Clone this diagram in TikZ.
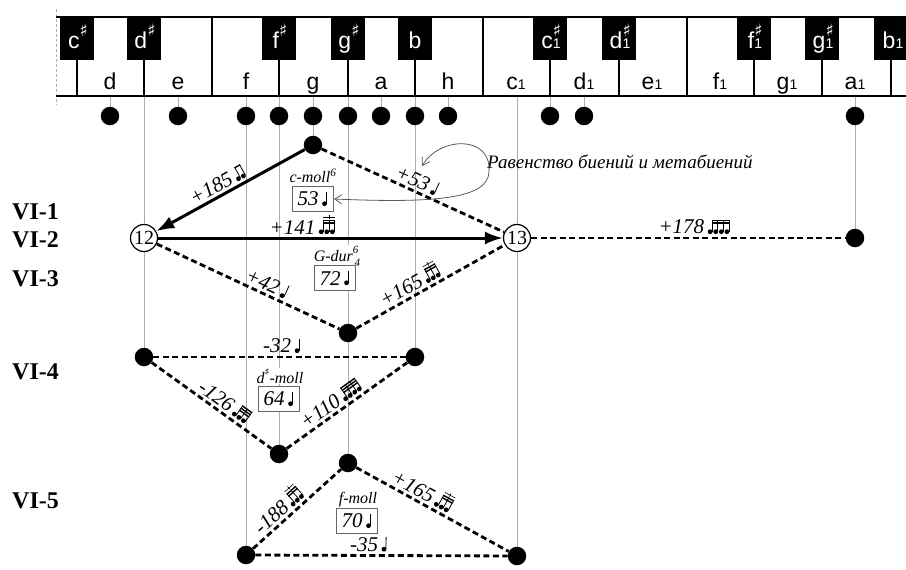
\documentclass[tikz,border=0pt]{standalone}
\usepackage{fontspec}
\usepackage{pict2e}
\setmainfont{Liberation Serif}
\setsansfont{Liberation Sans}
\newfontfamily\symfont{DejaVu Sans}
\usetikzlibrary{arrows.meta}
\pgfdeclarelayer{background}
\pgfsetlayers{background,main}

% beamed note group: #1 notes, #2 beams, #3 = 1 for a tuplet bracket
\newcommand\nbeam[3]{%
  \begingroup\setlength{\unitlength}{1pt}%
  \begin{picture}(0,0)%
    \multiput(2.4,2.2)(5.6,0){#1}{\circle*{4.8}}%
    \multiput(4.1,2.2)(5.6,0){#1}{\rule{0.8pt}{12pt}}%
    \multiput(4.1,12.9)(0,-2.6){#2}{\rule{\dimexpr5.6pt*(#1-1)+0.8pt\relax}{1.4pt}}%
    \ifnum#3=1
      \put(4.1,16.6){\rule{\dimexpr5.6pt*(#1-1)+0.8pt\relax}{0.6pt}}%
      \put(9.7,15.2){\rule{0.6pt}{3.8pt}}%
    \fi
  \end{picture}%
  \hspace*{\dimexpr5.6pt*#1+0.6pt\relax}\rule{0pt}{14pt}\endgroup}
\newcommand\nquarter{\nbeam{1}{0}{0}}

\newcommand\keyfont{\fontsize{23}{23}\selectfont\sffamily}
\newcommand\keysmall{\fontsize{14}{14}\selectfont}
\newcommand\keysharp{\raisebox{0.5em}{\symfont\fontsize{17}{17}\selectfont ♯}}
\newcommand\keysharpone{\rlap{\keysharp}\keysmall 1}
\newcommand\labfont{\fontsize{21}{21}\selectfont\itshape}
\newcommand\chordfont{\fontsize{16}{16}\selectfont\itshape}

\begin{document}
\begin{tikzpicture}[x=1pt,y=-1pt,
  keyline/.style={line width=2.4pt},
  guide/.style={gray!65, line width=0.9pt},
  dot/.style={circle, fill=black, inner sep=0pt, minimum size=18.5pt},
  numcirc/.style={circle, draw=black, line width=1.2pt, fill=white, inner sep=0pt,
                  minimum size=27pt, font=\fontsize{20}{20}\selectfont},
  arrowedge/.style={line width=3pt, -{Latex[length=18pt,width=13pt]}},
  dashedge/.style={line width=2.8pt, dash pattern=on 6pt off 3.5pt},
  lab/.style={sloped, above, inner sep=2.5pt, font=\labfont},
  chord/.style={fill=white, inner sep=1pt, font=\chordfont},
  valbox/.style={draw=gray!80!black, line width=0.9pt, fill=white, inner sep=2pt,
                 minimum width=41pt, minimum height=25pt, font=\labfont},
  rowlab/.style={anchor=base west, inner sep=0pt, font=\fontsize{24}{24}\selectfont\bfseries},
  whitekey/.style={anchor=base, inner sep=0pt, font=\keyfont},
  blackkey/.style={anchor=base, inner sep=0pt, font=\keyfont, text=white},
  note/.style={gray!70!black, line width=0.8pt, {Straight Barb[length=7pt,width=9pt]}-{Straight Barb[length=7pt,width=9pt]}}
]
\useasboundingbox (0,0) rectangle (906,570);

% ---- keyboard ----
\draw[gray!60, line width=0.8pt, dash pattern=on 3pt off 2pt] (56,9) -- (56,105);
\foreach \x in {77,144,279,348,415,550,619,754,822,891}
  \fill (\x-17,17) rectangle (\x+17,60);
\draw[keyline] (56,17) -- (906,17);
\draw[keyline] (56,96) -- (906,96);
\foreach \x in {77,144,212,279,348,415,483,550,619,687,754,822,891}
  \draw[keyline] (\x,17) -- (\x,96);

\node[blackkey] at (78,48) {c\keysharp};
\node[blackkey] at (145,48) {d\keysharp};
\node[blackkey] at (280,48) {f\keysharp};
\node[blackkey] at (349,48) {g\keysharp};
\node[blackkey] at (415,48) {b};
\node[blackkey] at (551,48) {c\keysharpone};
\node[blackkey] at (620,48) {d\keysharpone};
\node[blackkey] at (755,48) {f\keysharpone};
\node[blackkey] at (823,48) {g\keysharpone};
\node[blackkey] at (893,48) {b{\keysmall 1}};

\foreach \x/\t in {110/d,178/e,246/f,313/g,381/a,448/h}
  \node[whitekey] at (\x,89) {\t};
\foreach \x/\t in {516/c,584/d,652/e,720/f,787/g,855/a}
  \node[whitekey] at (\x,89) {\t{\keysmall 1}};

% ---- key anchors on the keyboard edge ----
\foreach \n/\x in {d/110,ds/144,e/178,f/246,fs/279,g/313,gs/348,a/381,b/415,h/448,
                   c1/517,cs1/550,d1/584,a1/855}
  \coordinate (k\n) at (\x,96);

% ---- row of pitches ----
\foreach \n/\x in {d/110,e/178,f/246,fs/279,g/313,gs/348,a/381,b/415,h/448,
                   cs1/550,d1/584,a1/855}
  \node[dot] (n\n) at (\x,116) {};

% ---- interval nodes ----
\node[dot] (g) at (313,145) {};
\node[numcirc] (c12) at (144,238) {12};
\node[numcirc] (c13) at (517,238) {13};
\node[dot] (a1) at (855,238) {};
\node[dot] (gs3) at (348,333) {};
\node[dot] (vd) at (144,357) {};
\node[dot] (vb) at (415,357) {};
\node[dot] (vfs) at (279,454) {};
\node[dot] (gs5) at (348,463) {};
\node[dot] (vf) at (246,555) {};
\node[dot] (vc1) at (517,556) {};

% ---- chord names and values ----
\node[chord] (cmoll) at (313,176) {c-moll\textsuperscript{6}};
\node[valbox] (v53) at (313,199) {53\,\nquarter};
\node[chord] (gdur) at (337,256) {G-dur\rlap{\raisebox{0.5em}{\fontsize{11}{11}\selectfont 6}}\raisebox{-0.3em}{\fontsize{11}{11}\selectfont\,4}};
\node[valbox] (v72) at (335,278) {72\,\nquarter};
\node[chord] (dsmoll) at (280,376) {d\raisebox{0.45em}{\symfont\fontsize{10}{10}\selectfont ♯}-moll};
\node[valbox] (v64) at (279,399) {64\,\nquarter};
\node[chord] (fmoll) at (358,500) {f-moll};
\node[valbox] (v70) at (357,521) {70\,\nquarter};

% ---- row labels ----
\node[rowlab] at (12,219) {VI-1};
\node[rowlab] at (12,247) {VI-2};
\node[rowlab] at (12,286) {VI-3};
\node[rowlab] at (12,379) {VI-4};
\node[rowlab] at (12,508) {VI-5};

% ---- guide lines from the keys ----
\begin{pgfonlayer}{background}
  \foreach \n in {d,e,f,fs,g,gs,a,b,h,cs1,d1,a1}
    \draw[guide] (k\n) -- (n\n);
  \draw[guide] (kds) -- (c12) -- (vd);
  \draw[guide] (kc1) -- (c13) -- (vc1);
  \draw[guide] (nf) -- (vf);
  \draw[guide] (nfs) -- (vfs);
  \draw[guide] (ng) -- (g);
  \draw[guide] (ngs) -- (gs3) -- (gs5);
  \draw[guide] (nb) -- (vb);
  \draw[guide] (na1) -- (a1);
\end{pgfonlayer}

% ---- intervals ----
\draw[arrowedge] (g) -- node[lab, pos=.55] {+185\,\nbeam{2}{1}{0}} (c12);
\draw[dashedge] (g) -- node[lab, pos=.5] {+53\,\nquarter} (c13);
\draw[arrowedge] (c12) -- node[lab, pos=.42] {+141\,\nbeam{3}{2}{1}} (c13);
\draw[dashedge] (c13) -- node[lab, pos=.52] {+178\,\nbeam{4}{2}{0}} (a1);
\draw[dashedge] (c12) -- node[lab, pos=.58] {+42\,\nquarter} (gs3);
\draw[dashedge] (gs3) -- node[lab, pos=.40] {+165\,\nbeam{3}{2}{1}} (c13);
\draw[dashedge] (vd) -- node[lab, pos=.51] {-32\,\nquarter} (vb);
\draw[dashedge] (vd) -- node[lab, pos=.56] {-126\,\nbeam{3}{3}{0}} (vfs);
\draw[dashedge] (vfs) -- node[lab, pos=.42] {+110\,\nbeam{4}{3}{0}} (vb);
\draw[dashedge] (vf) -- node[lab, pos=.38] {-188\,\nbeam{3}{2}{1}} (gs5);
\draw[dashedge] (gs5) -- node[lab, pos=.40] {+165\,\nbeam{3}{2}{1}} (vc1);
\draw[dashedge] (vf) -- node[lab, pos=.45] {-35\,\nquarter} (vc1);

% ---- remark on equal beats ----
\node[anchor=west, inner sep=0pt, font=\fontsize{19}{19}\selectfont\itshape] (remark) at (487,162)
  {Равенство биений и метабиений};
\coordinate (bend) at (489,172);
\draw[note] (v53.east) .. controls (430,203) and (488,200) .. (bend)
            .. controls (492,135) and (440,136) .. (422,166);
\end{tikzpicture}
\end{document}
